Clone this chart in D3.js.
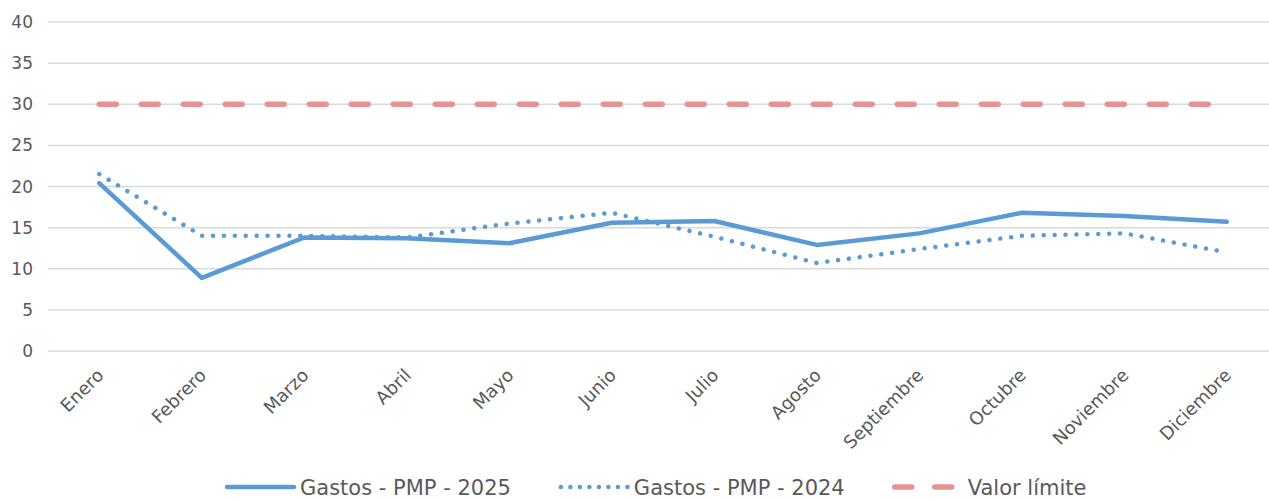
<!DOCTYPE html>
<html>
<head>
<meta charset="utf-8">
<script src="https://cdn.jsdelivr.net/npm/d3@7"></script>
<style>
  body { margin: 0; background: #fff; }
  svg text { font-family: "DejaVu Sans", sans-serif; fill: #595959; }
</style>
</head>
<body>
<svg id="chart" width="1269" height="500"></svg>
<script>
var months = ['Enero', 'Febrero', 'Marzo', 'Abril', 'Mayo', 'Junio',
  'Julio', 'Agosto', 'Septiembre', 'Octubre', 'Noviembre', 'Diciembre'];
var gastos2025 = [20.4, 8.9, 13.8, 13.7, 13.1, 15.6, 15.8, 12.9, 14.3, 16.8, 16.4, 15.7];
var gastos2024 = [21.5, 14.0, 14.0, 13.8, 15.5, 16.8, 13.9, 10.7, 12.4, 14.0, 14.3, 12.0];
var valorLimite = [30, 30, 30, 30, 30, 30, 30, 30, 30, 30, 30, 30];
var yTicks = [0, 5, 10, 15, 20, 25, 30, 35, 40];
var seriesNames = ['Gastos - PMP - 2025', 'Gastos - PMP - 2024', 'Valor límite'];

var blue = '#5b9bd5', red = '#e59493';

var series = [
  { label: seriesNames[0], values: gastos2025, color: blue, width: 4.5, dash: null, legendDash: null },
  { label: seriesNames[1], values: gastos2024, color: blue, width: 4.5, dash: '0.01 10.9', legendDash: '0.01 9.5' },
  { label: seriesNames[2], values: valorLimite, color: red, width: 5.5, dash: '17 25', legendDash: '17 23' }
];

var svg = d3.select('#chart');
var plotLeft = 48, plotRight = 1278, plotTop = 22, plotBottom = 351;

var x = d3.scalePoint().domain(months).range([plotLeft, plotRight]).padding(0.5);
var y = d3.scaleLinear().domain([0, 40]).range([plotBottom, plotTop]);

// grid
svg.append('g').selectAll('line')
  .data(yTicks).enter().append('line')
  .attr('x1', plotLeft).attr('x2', plotRight)
  .attr('y1', function(d) { return y(d); })
  .attr('y2', function(d) { return y(d); })
  .attr('stroke', '#d9d9d9').attr('stroke-width', 1.5);

// y labels
svg.append('g').selectAll('text')
  .data(yTicks).enter().append('text')
  .attr('x', 33)
  .attr('y', function(d) { return y(d); })
  .attr('dy', '0.36em')
  .attr('text-anchor', 'end')
  .style('font-size', '17px')
  .text(function(d) { return d; });

// x labels
svg.append('g').selectAll('text')
  .data(months).enter().append('text')
  .attr('transform', function(d) { return 'translate(' + (x(d) + 1) + ',372) rotate(-45)'; })
  .attr('dy', '0.35em')
  .attr('text-anchor', 'end')
  .style('font-size', '18px')
  .text(function(d) { return d; });

// lines, limit drawn first
var line = d3.line()
  .x(function(d, i) { return x(months[i]); })
  .y(function(d) { return y(d); });

series.slice().reverse().forEach(function(s) {
  svg.append('path')
    .datum(s.values)
    .attr('d', line)
    .attr('fill', 'none')
    .attr('stroke', s.color)
    .attr('stroke-width', s.width)
    .attr('stroke-linecap', 'round')
    .attr('stroke-linejoin', 'round')
    .attr('stroke-dasharray', s.dash);
});

// legend
var legend = svg.append('g');
var lx = 225, ly = 487;
series.forEach(function(s) {
  var g = legend.append('g');
  g.append('line')
    .attr('x1', lx + 2).attr('x2', lx + 69)
    .attr('y1', ly).attr('y2', ly)
    .attr('stroke', s.color)
    .attr('stroke-width', s.width)
    .attr('stroke-linecap', 'round')
    .attr('stroke-dasharray', s.legendDash);
  var t = g.append('text')
    .attr('x', lx + 75)
    .attr('y', ly)
    .attr('dy', '0.36em')
    .style('font-size', '21px')
    .text(s.label);
  lx += 75 + t.node().getComputedTextLength() + 48;
});
</script>
</body>
</html>
